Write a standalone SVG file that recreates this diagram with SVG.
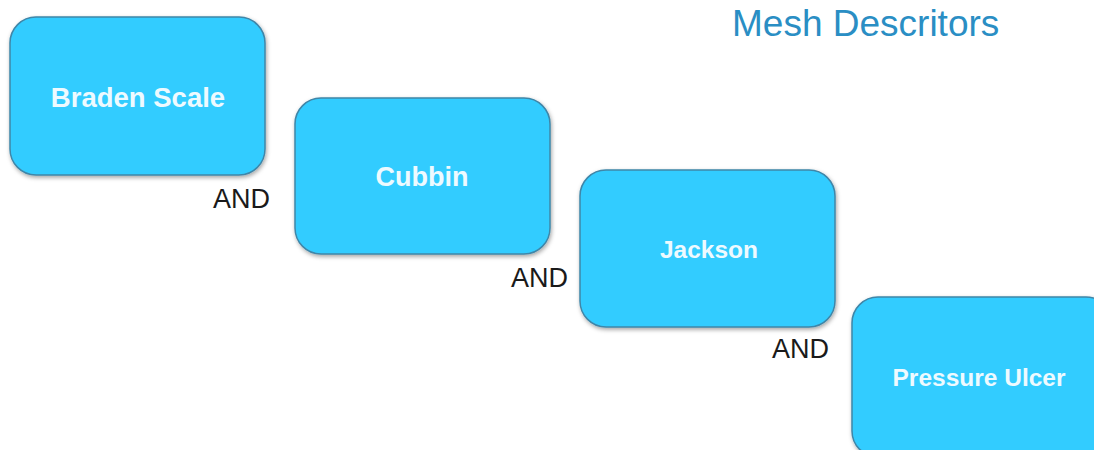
<svg xmlns="http://www.w3.org/2000/svg" width="1094" height="450" viewBox="0 0 1094 450">
  <defs>
    <filter id="shadow" x="-10%" y="-10%" width="130%" height="130%">
      <feDropShadow dx="1" dy="2" stdDeviation="2" flood-color="#000" flood-opacity="0.35"/>
    </filter>
  </defs>
  <style>
    .box { fill: #33ccff; stroke: #3f86a8; stroke-width: 1.5; filter: url(#shadow); }
    .label { font-family: "Liberation Sans", Arial, sans-serif; font-weight: bold; fill: #eefaff; text-anchor: middle; }
    .op { font-family: "Liberation Sans", Arial, sans-serif; font-size: 27px; fill: #1a1a1a; }
    .title { font-family: "Liberation Sans", Arial, sans-serif; font-size: 37px; fill: #2a8ec4; }
  </style>
  <rect width="1094" height="450" fill="#ffffff"/>
  <text class="title" x="732" y="36">Mesh Descritors</text>

  <g id="node-braden">
    <rect class="box" x="10" y="17" width="255" height="158" rx="26"/>
    <text class="label" x="138" y="107" font-size="27.5">Braden Scale</text>
  </g>
  <g id="node-cubbin">
    <rect class="box" x="295" y="98" width="255" height="156" rx="26"/>
    <text class="label" x="422" y="186" font-size="27">Cubbin</text>
  </g>
  <g id="node-jackson">
    <rect class="box" x="580" y="170" width="255" height="157" rx="26"/>
    <text class="label" x="709" y="258" font-size="24.5">Jackson</text>
  </g>
  <g id="node-pressure">
    <rect class="box" x="852" y="297" width="260" height="160" rx="26"/>
    <text class="label" x="979" y="386" font-size="24.5">Pressure Ulcer</text>
  </g>

  <g id="connectors">
    <text class="op" x="213" y="208">AND</text>
    <text class="op" x="511" y="287">AND</text>
    <text class="op" x="772" y="358">AND</text>
  </g>
</svg>
